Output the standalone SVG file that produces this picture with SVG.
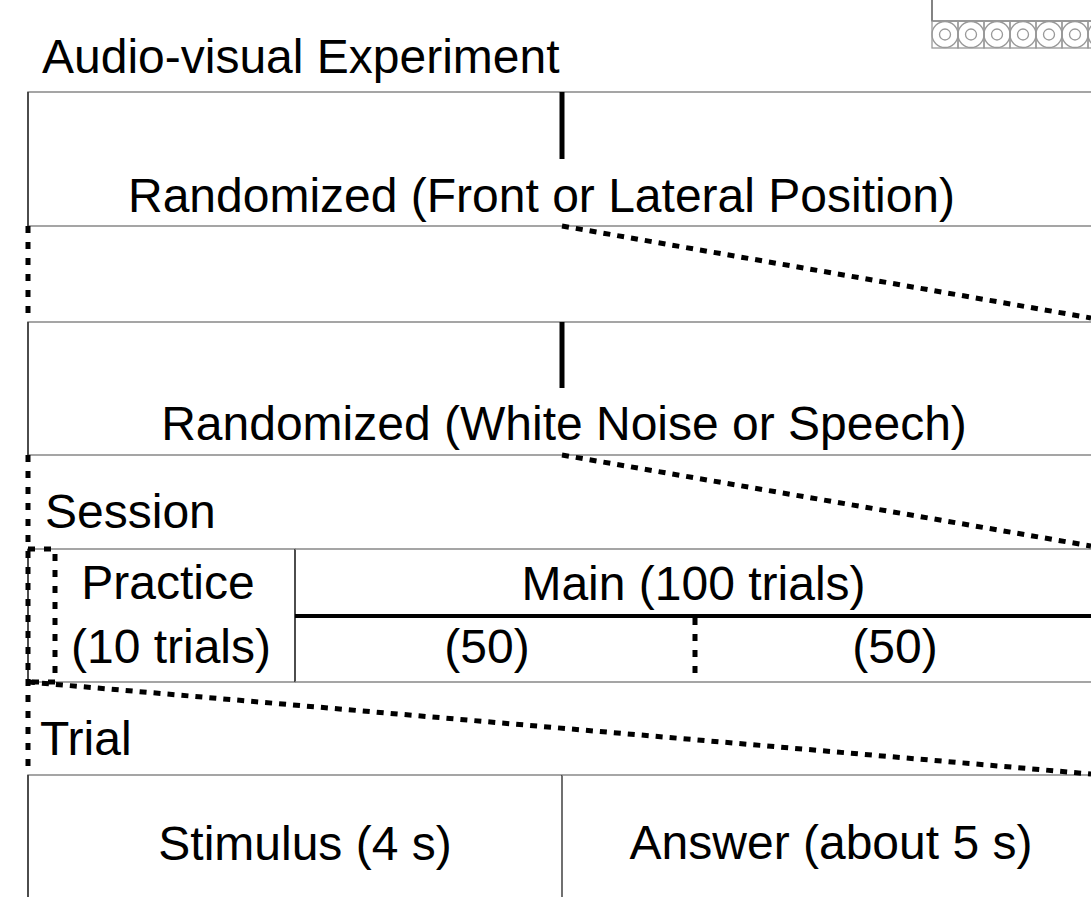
<svg xmlns="http://www.w3.org/2000/svg" width="1091" height="897" viewBox="0 0 1091 897">
  <style>
    text { font-family: "Liberation Sans", Arial, sans-serif; font-size: 48px; fill: #000; }
    .mid { text-anchor: middle; }
    .hline { stroke: #888; stroke-width: 1.5; fill: none; }
    .vline { stroke: #111; stroke-width: 1.2; fill: none; }
    .bar { stroke: #000; stroke-width: 5; fill: none; }
    .thick { stroke: #000; stroke-width: 4; fill: none; }
    .dots { stroke: #000; stroke-width: 5; stroke-dasharray: 7 7; fill: none; }
    .vdots { stroke: #000; stroke-width: 5; stroke-dasharray: 7 9; fill: none; }
    .cell { stroke: #999; stroke-width: 1.3; fill: none; }
  </style>
  <defs>
    <g id="disc">
      <rect x="0" y="0" width="26" height="27" class="cell"/>
      <circle cx="13" cy="13.5" r="13" class="cell"/>
      <circle cx="13" cy="13.5" r="5.5" class="cell"/>
    </g>
  </defs>

  <rect width="1091" height="897" fill="#fff"/>

  <!-- corner legend: frame with a row of discs -->
  <g id="legend">
    <path d="M932 -1 V21 H1092" stroke="#333" stroke-width="1.2" fill="none"/>
    <use href="#disc" x="932" y="21"/>
    <use href="#disc" x="958" y="21"/>
    <use href="#disc" x="984" y="21"/>
    <use href="#disc" x="1010" y="21"/>
    <use href="#disc" x="1036" y="21"/>
    <use href="#disc" x="1062" y="21"/>
    <use href="#disc" x="1088" y="21"/>
  </g>

  <text id="title" x="42" y="73">Audio-visual Experiment</text>

  <!-- level 1: position -->
  <g id="position">
    <path d="M1092 92 H28 V226 H1092" class="hline"/>
    <line x1="28" y1="92" x2="28" y2="226" class="vline"/>
    <line x1="562" y1="92" x2="562" y2="159" class="bar"/>
    <text class="mid" x="541.5" y="212">Randomized (Front or Lateral Position)</text>
  </g>

  <!-- level 2: sound type -->
  <g id="sound">
    <path d="M1092 322 H28 V455 H1092" class="hline"/>
    <line x1="28" y1="322" x2="28" y2="455" class="vline"/>
    <line x1="562" y1="322" x2="562" y2="388" class="bar"/>
    <text class="mid" x="564" y="440">Randomized (White Noise or Speech)</text>
  </g>

  <!-- level 3: session -->
  <g id="session">
    <text x="45" y="528">Session</text>
  </g>
  <g id="practice">
    <path d="M295 549 H28 V682 H295 Z" class="hline"/>
    <line x1="28" y1="549" x2="28" y2="682" class="vline"/>
    <line x1="295" y1="549" x2="295" y2="682" class="vline"/>
    <text class="mid" x="168" y="599">Practice</text>
    <text class="mid" x="171" y="663">(10 trials)</text>
  </g>
  <g id="main">
    <path d="M1092 549 H295 M295 682 H1092" class="hline"/>
    <line x1="295" y1="616" x2="1092" y2="616" class="thick"/>
    <line x1="695" y1="618" x2="695" y2="682" class="vdots"/>
    <text class="mid" x="693.5" y="600">Main (100 trials)</text>
    <text class="mid" x="487" y="663">(50)</text>
    <text class="mid" x="895" y="663">(50)</text>
  </g>

  <!-- level 4: trial -->
  <g id="trial">
    <text x="40" y="755">Trial</text>
  </g>
  <g id="stimulus">
    <path d="M562 775 H28 V898" class="hline"/>
    <line x1="28" y1="775" x2="28" y2="898" class="vline"/>
    <line x1="562" y1="775" x2="562" y2="898" class="vline"/>
    <text class="mid" x="305" y="860">Stimulus (4 s)</text>
  </g>
  <g id="answer">
    <path d="M562 775 H1092" class="hline"/>
    <text class="mid" x="831" y="859">Answer (about 5 s)</text>
  </g>

  <!-- zoom connectors between levels -->
  <g id="connectors">
    <line x1="28" y1="226" x2="28" y2="322" class="vdots"/>
    <line x1="562" y1="226" x2="1091" y2="318" class="dots"/>
    <line x1="28" y1="455" x2="28" y2="775" class="vdots"/>
    <line x1="562" y1="455" x2="1091" y2="546" class="dots"/>
    <path d="M28 549 H55 V682 H28" class="vdots"/>
    <line x1="28" y1="682" x2="1091" y2="774" class="dots"/>
  </g>
</svg>
